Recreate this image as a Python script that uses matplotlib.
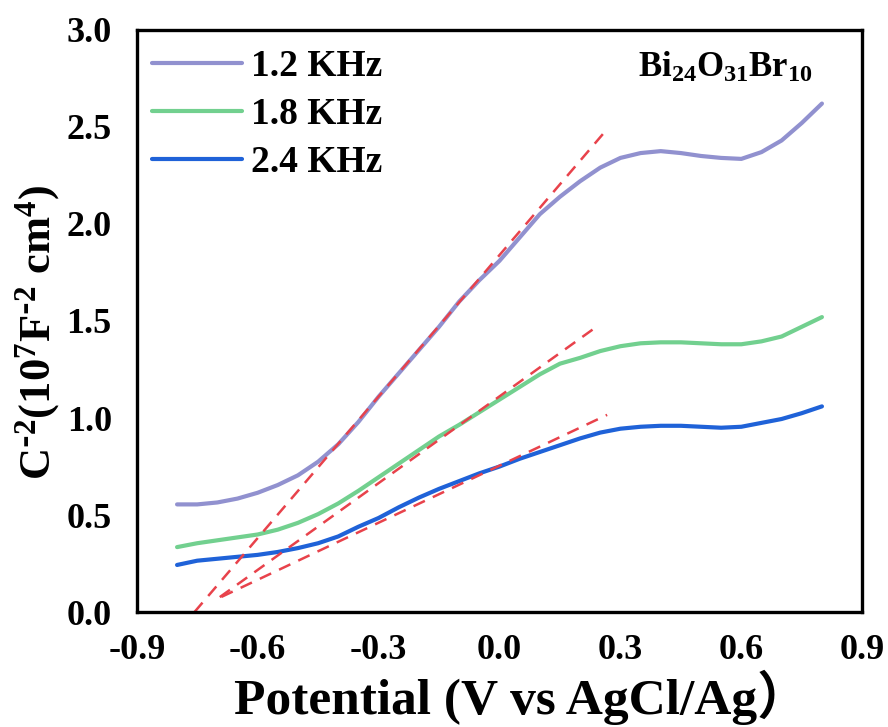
import numpy as np
import matplotlib.pyplot as plt

# === data ===
potential = [-0.80, -0.75, -0.70, -0.65, -0.60, -0.55, -0.50, -0.45, -0.40, -0.35,
             -0.30, -0.25, -0.20, -0.15, -0.10, -0.05, 0.00, 0.05, 0.10, 0.15,
             0.20, 0.25, 0.30, 0.35, 0.40, 0.45, 0.50, 0.55, 0.60, 0.65,
             0.70, 0.75, 0.80]
c2_12k = [0.555, 0.555, 0.565, 0.585, 0.615, 0.655, 0.705, 0.775, 0.865, 0.98,
          1.11, 1.23, 1.35, 1.47, 1.60, 1.71, 1.81, 1.93, 2.05, 2.14,
          2.22, 2.29, 2.34, 2.365, 2.375, 2.365, 2.35, 2.34, 2.335, 2.37,
          2.43, 2.52, 2.62]
c2_18k = [0.335, 0.355, 0.37, 0.385, 0.40, 0.425, 0.46, 0.505, 0.56, 0.625,
          0.695, 0.765, 0.835, 0.905, 0.965, 1.03, 1.095, 1.16, 1.225, 1.28,
          1.31, 1.345, 1.37, 1.385, 1.39, 1.39, 1.385, 1.38, 1.38, 1.395,
          1.42, 1.47, 1.52]
c2_24k = [0.243, 0.265, 0.275, 0.285, 0.295, 0.31, 0.33, 0.355, 0.39, 0.44,
          0.485, 0.54, 0.59, 0.635, 0.675, 0.715, 0.75, 0.79, 0.825, 0.86,
          0.895, 0.925, 0.945, 0.955, 0.96, 0.96, 0.955, 0.95, 0.955, 0.975,
          0.995, 1.025, 1.06]

labels = ['1.2 KHz', '1.8 KHz', '2.4 KHz']
colors = ['#9191cf', '#72d08f', '#1f62d8']

# Mott-Schottky linear fits: x-intercept (flat band), slope, drawn range
fb_pot = [-0.757, -0.746, -0.770]
fit_slope = [2.43, 1.49, 0.98]
fit_start = [-0.757, -0.694, -0.690]
fit_end = [0.257, 0.232, 0.267]

# === plot ===
plt.rcParams['font.family'] = ['Liberation Serif', 'Noto Sans CJK SC']
plt.rcParams['font.weight'] = 'bold'
plt.rcParams['mathtext.default'] = 'regular'

fig = plt.figure(figsize=(8.88, 7.27), dpi=100)
ax = fig.add_axes([0.154, 0.158, 0.817, 0.801])

for y, lab, col in zip([c2_12k, c2_18k, c2_24k], labels, colors):
    ax.plot(potential, y, color=col, lw=3, label=lab, solid_capstyle='round')

for e0, k, xs, xe in zip(fb_pot, fit_slope, fit_start, fit_end):
    xx = np.array([xs, xe])
    ax.plot(xx, k * (xx - e0), color='#e8424b', lw=1.8, ls=(0, (5, 3.5)))

ax.set_xlim(-0.9, 0.9)
ax.set_ylim(0, 3.0)
ax.set_xticks(np.arange(-0.9, 0.91, 0.3))
ax.set_yticks(np.arange(0, 3.01, 0.5))
ax.set_xticklabels(['-0.9', '-0.6', '-0.3', '0.0', '0.3', '0.6', '0.9'])
ax.set_yticklabels(['0.0', '0.5', '1.0', '1.5', '2.0', '2.5', '3.0'])
ax.tick_params(axis='x', length=0, labelsize=26, pad=16)
ax.tick_params(axis='y', length=0, labelsize=26, pad=18)
for lab in ax.get_xticklabels() + ax.get_yticklabels():
    lab.set_fontweight('bold')
for spine in ax.spines.values():
    spine.set_linewidth(2.4)

ax.set_xlabel('Potential (V vs AgCl/Ag）', fontsize=37, fontweight='bold', labelpad=2)
ax.xaxis.label.set_x(0.53)
ax.set_ylabel(r'C$^{\text{-}2}$(10$^{7}$F$^{\text{-}2}$ cm$^{4}$)', fontsize=32,
              fontweight='bold', labelpad=3)
ax.yaxis.label.set_y(0.48)

ax.text(0.932, 0.935, 'Bi$_{24}$O$_{31}$Br$_{10}$', transform=ax.transAxes,
        ha='right', va='center', fontsize=25, fontweight='bold')

leg = ax.legend(loc='upper left', bbox_to_anchor=(0.0, 0.993), frameon=False,
                fontsize=27, handlelength=2.4, handletextpad=0.25,
                labelspacing=0.35, borderaxespad=0.2, borderpad=0.2)
for t in leg.get_texts():
    t.set_fontweight('bold')

fig.savefig('out.png', dpi=100)
